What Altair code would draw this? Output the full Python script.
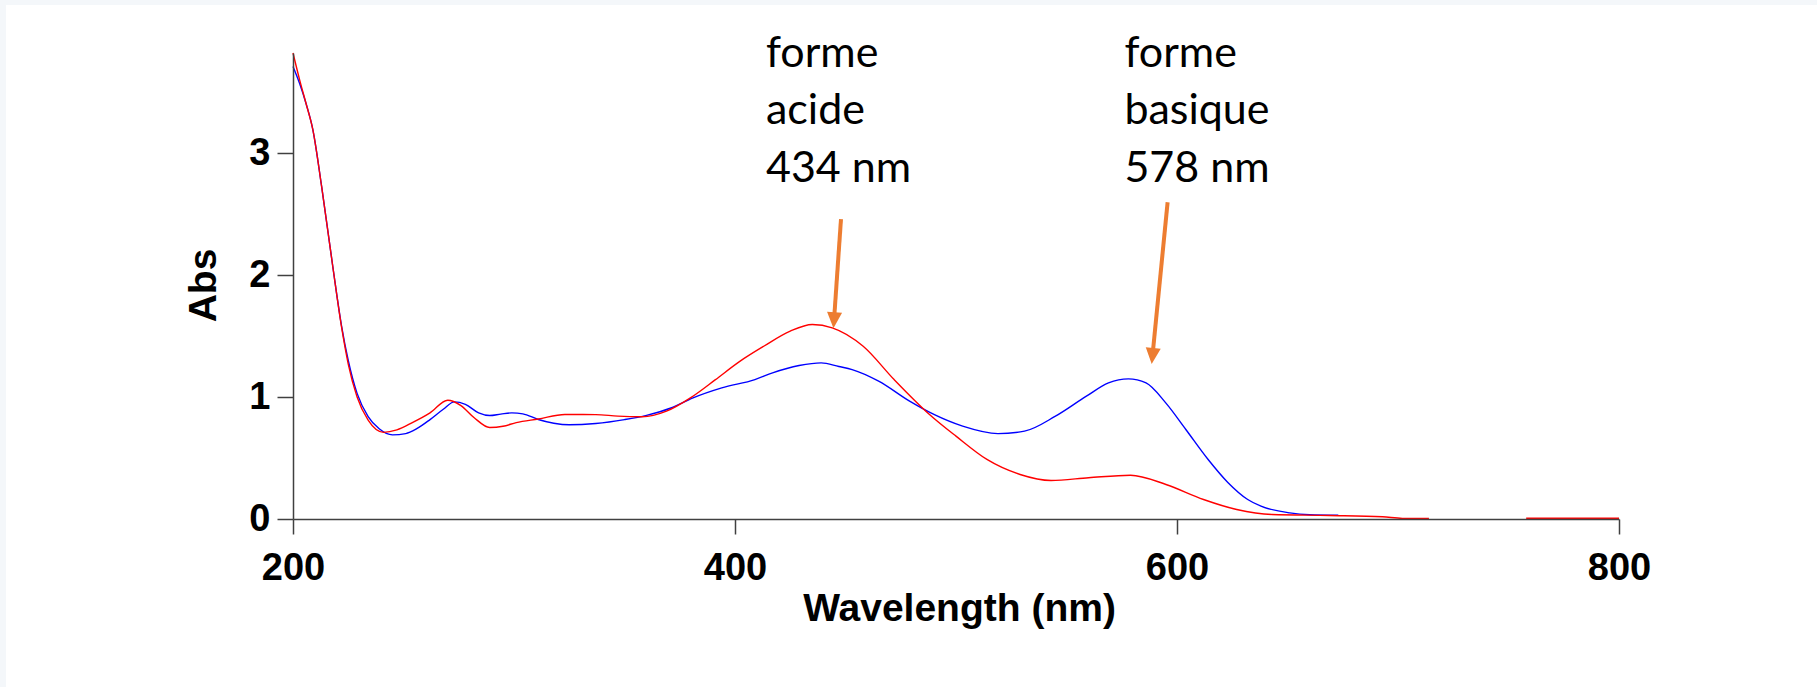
import altair as alt
import pandas as pd

# ---- spectra ----
blue_nm = [200, 203, 206, 209, 213, 218, 222, 225, 229, 234, 239, 245, 251, 256, 262, 268, 273, 278,
           284, 289, 294, 299, 304, 311, 318, 325, 337, 350, 360, 371, 381, 394, 409, 417, 429, 439,
           447, 453, 465, 479, 490, 503, 519, 531, 545, 559, 569, 578, 586, 595, 604, 614, 623, 632,
           638, 651, 660, 673]
blue_abs = [3.71, 3.57, 3.40, 3.19, 2.72, 2.07, 1.58, 1.30, 1.03, 0.84, 0.74, 0.69, 0.70, 0.74, 0.815,
            0.90, 0.96, 0.94, 0.87, 0.848, 0.86, 0.87, 0.862, 0.816, 0.785, 0.772, 0.783, 0.815, 0.85,
            0.91, 0.993, 1.075, 1.143, 1.198, 1.258, 1.28, 1.25, 1.225, 1.13, 0.966, 0.857, 0.761, 0.70,
            0.72, 0.843, 1.007, 1.116, 1.149, 1.116, 0.95, 0.734, 0.49, 0.30, 0.16, 0.105, 0.05, 0.035,
            0.031]

red_nm = [200, 203, 206, 209, 213, 218, 222, 225, 229, 234, 241, 247, 254, 262, 270, 276, 282, 289,
          295, 301, 311, 323, 337, 347, 358, 369, 380, 391, 402, 413, 425, 435, 444, 458, 472, 488,
          500, 514, 529, 543, 560, 579, 595, 612, 627, 643, 669, 693, 702, 714,
          758, 800]
red_abs = [3.82, 3.60, 3.40, 3.19, 2.72, 2.07, 1.57, 1.27, 1.00, 0.81, 0.71, 0.73, 0.79, 0.87, 0.974,
           0.93, 0.83, 0.75, 0.76, 0.79, 0.82, 0.857, 0.856, 0.843, 0.838, 0.884, 0.995, 1.14, 1.29,
           1.416, 1.54, 1.594, 1.567, 1.416, 1.143, 0.857, 0.679, 0.488, 0.365, 0.316, 0.338, 0.359,
           0.283, 0.16, 0.078, 0.037, 0.029, 0.018, 0.005, 0.004,
           0.006, 0.006]
red_segment = [1] * 50 + [2] * 2

# ---- axis ticks ----
x_ticks = [200, 400, 600, 800]
y_ticks = [0, 1, 2, 3]

# ---- annotations (data units) ----
ann_text = ["forme", "acide", "434 nm", "forme", "basique", "578 nm"]
ann_nm = [414.0, 414.0, 414.0, 576.2, 576.2, 576.2]
ann_abs = [3.707, 3.238, 2.765, 3.707, 3.238, 2.765]

arrow_start_nm = [447.96, 595.75]
arrow_start_abs = [2.459, 2.596]
arrow_head_nm = [444.8, 588.9]
arrow_head_abs = [1.629, 1.336]
arrow_angle = [3.9, 5.6]

blue_df = pd.DataFrame({"nm": blue_nm, "abs": blue_abs})
red_df = pd.DataFrame({"nm": red_nm, "abs": red_abs, "seg": red_segment})
ann_df = pd.DataFrame({"nm": ann_nm, "abs": ann_abs, "label": ann_text})
arrow_df = pd.DataFrame({"nm": arrow_start_nm, "abs": arrow_start_abs,
                         "nm2": arrow_head_nm, "abs2": arrow_head_abs, "ang": arrow_angle})

AXIS_COLOR = "#404040"
W, H = 1326, 466
PAD = {"left": 293, "top": 53, "right": 198, "bottom": 168}

x_enc = alt.X("nm:Q",
              scale=alt.Scale(domain=[200, 800], nice=False, zero=False),
              axis=alt.Axis(values=x_ticks, title="Wavelength (nm)", grid=False, format="d", zindex=1,
                            labelFont="Liberation Sans", labelFontWeight="bold", labelFontSize=38,
                            labelColor="black", labelPadding=15, tickSize=15, tickWidth=1.5,
                            tickColor=AXIS_COLOR, domainColor=AXIS_COLOR, domainWidth=1.5,
                            titleFont="Liberation Sans", titleFontWeight="bold", titleFontSize=39,
                            titleColor="black", titleX=666, titleY=101,
                            titleBaseline="alphabetic", titleAlign="center", labelFlush=False))
y_enc = alt.Y("abs:Q",
              scale=alt.Scale(domain=[0, 3.82], nice=False, zero=True),
              axis=alt.Axis(values=y_ticks, title="Abs", grid=False, format="d", zindex=1,
                            labelFont="Liberation Sans", labelFontWeight="bold", labelFontSize=38,
                            labelColor="black", labelPadding=7, tickSize=16, tickWidth=1.5,
                            tickColor=AXIS_COLOR, domainColor=AXIS_COLOR, domainWidth=1.5,
                            titleFont="Liberation Sans", titleFontWeight="bold", titleFontSize=39,
                            titleColor="black", titleX=-78, titleY=232, titleAngle=270,
                            titleBaseline="alphabetic", titleAlign="center", labelFlush=False))

# page backdrop: light frame on the top and left edges, white sheet elsewhere
sheet = alt.Chart(pd.DataFrame({"k": [0]})).mark_rect(color="white").encode(
    x=alt.value(6 - PAD["left"]), x2=alt.value(W + PAD["right"]),
    y=alt.value(5 - PAD["top"]), y2=alt.value(H + PAD["bottom"]))

blue_line = alt.Chart(blue_df).mark_line(color="#0000ff", strokeWidth=1.4, interpolate="monotone").encode(
    x=x_enc, y=y_enc)
red_line = alt.Chart(red_df).mark_line(color="#ff0000", strokeWidth=1.4, interpolate="monotone").encode(
    x=x_enc, y=y_enc, detail="seg:N")

shafts = alt.Chart(arrow_df).mark_rule(color="#ED7D31", strokeWidth=4).encode(
    x=x_enc, y=y_enc, x2="nm2:Q", y2="abs2:Q")
heads = alt.Chart(arrow_df).mark_point(
    shape="M-0.94,-1L0.94,-1L0,1Z", size=256, filled=True, color="#ED7D31", opacity=1, strokeWidth=0
).encode(x=alt.X("nm2:Q", scale=alt.Scale(domain=[200, 800], nice=False, zero=False)),
         y=alt.Y("abs2:Q", scale=alt.Scale(domain=[0, 3.82], nice=False)),
         angle=alt.Angle("ang:Q", scale=None))

labels = alt.Chart(ann_df).mark_text(
    align="left", baseline="alphabetic", font="Lato", fontSize=43, color="black"
).encode(x=x_enc, y=y_enc, text="label:N")

chart = alt.layer(sheet, blue_line, red_line, shafts, heads, labels).properties(
    width=W, height=H,
    autosize=alt.AutoSizeParams(type="none"),
    padding=PAD,
    background="#f4f7fa",
).configure_view(strokeWidth=0)

chart.save("out.html", embed_options={"renderer": "svg", "actions": False})
